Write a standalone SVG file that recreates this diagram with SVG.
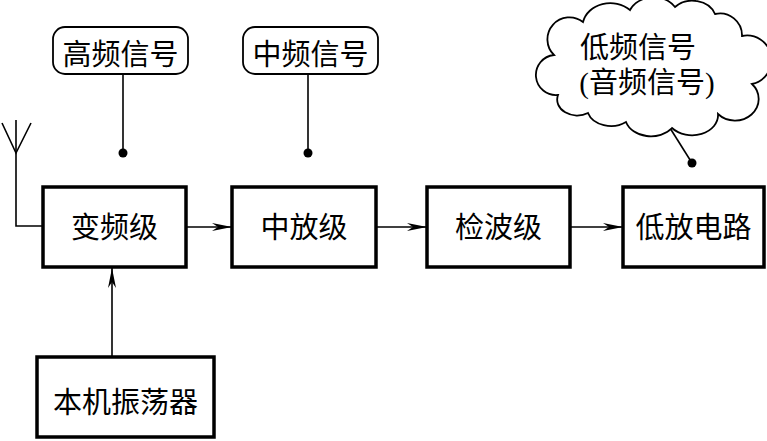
<svg xmlns="http://www.w3.org/2000/svg" width="767" height="441" viewBox="0 0 767 441">
<style>
.box{fill:#fff;stroke:#000;stroke-width:3.5}
.lbl{fill:#fff;stroke:#000;stroke-width:1.8}
.t{font-family:"Liberation Serif","Noto Sans CJK SC",serif;font-size:29px;fill:#000;text-anchor:middle}
.ln{fill:none;stroke:#000;stroke-width:1.6}
</style>
<defs>
<marker id="ah" markerUnits="userSpaceOnUse" markerWidth="20" markerHeight="10" viewBox="0 0 20 10" refX="20" refY="5" orient="auto">
<path d="M0,1 L20,5 L0,9 L6,5 z" fill="#000"/>
</marker>
</defs>
<g id="connectors">
<path class="ln" d="M16,120 V226 H43"/>
<path class="ln" d="M2,123 L16,153 L31,123"/>
<path class="ln" d="M186,227 H232" marker-end="url(#ah)"/>
<path class="ln" d="M376,227 H427" marker-end="url(#ah)"/>
<path class="ln" d="M570,227 H623" marker-end="url(#ah)"/>
<path class="ln" d="M112,357 V268" marker-end="url(#ah)"/>
<path class="ln" d="M123,74 V153"/>
<circle cx="123" cy="153" r="4.5"/>
<path class="ln" d="M308,74 V153"/>
<circle cx="308" cy="153" r="4.5"/>
<path class="ln" d="M670,128 L692,163"/>
<circle cx="692" cy="163" r="4.5"/>
</g>
<g id="n1"><rect class="box" x="43" y="187" width="143" height="80"/><text class="t" x="114.5" y="238">变频级</text></g>
<g id="n2"><rect class="box" x="232" y="187" width="144" height="80"/><text class="t" x="304" y="238">中放级</text></g>
<g id="n3"><rect class="box" x="427" y="187" width="143" height="80"/><text class="t" x="498.5" y="238">检波级</text></g>
<g id="n4"><rect class="box" x="623" y="187" width="141" height="80"/><text class="t" x="693.5" y="238">低放电路</text></g>
<g id="n5"><rect class="box" x="37" y="357" width="177" height="80"/><text class="t" x="125.5" y="413">本机振荡器</text></g>
<g id="l1"><rect class="lbl" x="53" y="27" width="135" height="47" rx="12"/><text class="t" x="120.5" y="65">高频信号</text></g>
<g id="l2"><rect class="lbl" x="243" y="27" width="135" height="47" rx="12"/><text class="t" x="310.5" y="65">中频信号</text></g>
<g id="l3">
<path class="lbl" d="M554,55 A22,22 0 0 1 583,22 A28,24 0 0 1 630,10 A26,22 0 0 1 675,7 A24,20 0 0 1 715,14 A22,22 0 0 1 742,36 A20,20 0 0 1 752,84 A22,20 0 0 1 718,114 A26,20 0 0 1 672,128 A26,20 0 0 1 626,122 A24,18 0 0 1 588,113 A20,16 0 0 1 558,95 A18,18 0 0 1 554,55 Z"/>
<text class="t" x="638" y="58">低频信号</text>
<text class="t" x="647" y="93">(音频信号)</text>
</g>
</svg>
